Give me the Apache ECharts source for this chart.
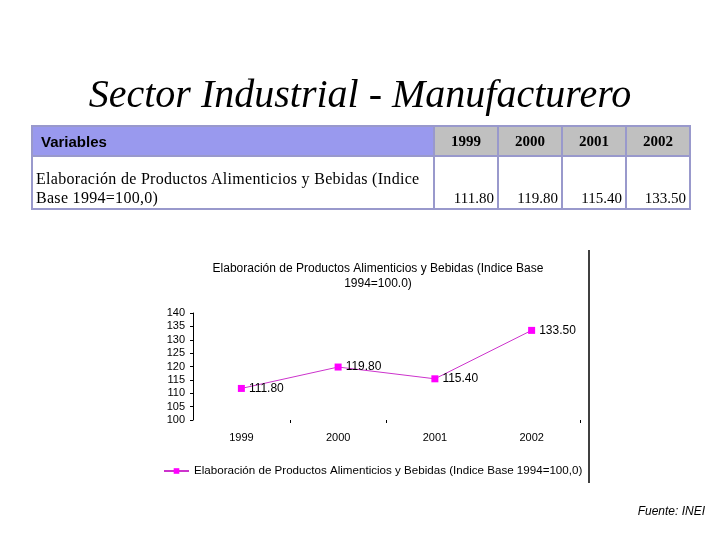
<!DOCTYPE html>
<html>
<head>
<meta charset="utf-8">
<script src="https://cdn.jsdelivr.net/npm/echarts@6/dist/echarts.min.js"></script>
<style>
    body { margin: 0; background: #fff; }
    #page { position: relative; width: 720px; height: 540px; overflow: hidden; }
    #chart { position: absolute; left: 0; top: 0; width: 720px; height: 540px; }
    #title {
        position: absolute; left: 0; top: 70px; width: 720px; text-align: center;
        font-family: "Liberation Serif", "DejaVu Serif", serif; font-style: italic;
        font-size: 40px; color: #000;
    }
    #tabla {
        position: absolute; left: 31px; top: 125px; width: 660px; height: 85px;
        border-collapse: collapse; border: 2px solid #9999cc;
    }
    #tabla td { border: 2px solid #9999cc; padding: 0 3px; }
    #tabla .hvar {
        background: #9999ee; font-family: "Liberation Sans", Arial, sans-serif;
        font-weight: bold; font-size: 15px; height: 28px; padding-left: 8px;
    }
    #tabla .hyear {
        background: #c0c0c0; font-family: "Liberation Serif", serif; font-weight: bold;
        font-size: 15px; text-align: center; width: 56px;
    }
    #tabla .name {
        font-family: "Liberation Serif", serif; font-size: 16px; line-height: 19px;
        vertical-align: bottom; padding-bottom: 1px; letter-spacing: 0.3px;
    }
    #tabla .val {
        font-family: "Liberation Serif", serif; font-size: 15px; text-align: right;
        vertical-align: bottom; padding-bottom: 1px;
    }
    #fuente {
        position: absolute; right: 15px; top: 504px;
        font-family: "Liberation Sans", Arial, sans-serif; font-style: italic; font-size: 12px;
    }
</style>
</head>
<body>
<div id="page">
    <div id="chart"></div>
    <div id="title">Sector Industrial - Manufacturero</div>
    <table id="tabla"></table>
    <div id="fuente">Fuente: INEI</div>
</div>
<script>
let years = ['1999', '2000', '2001', '2002'];
let values = [111.80, 119.80, 115.40, 133.50];
let seriesName = 'Elaboración de Productos Alimenticios y Bebidas (Indice Base 1994=100,0)';
let chartTitle = 'Elaboración de Productos Alimenticios y Bebidas (Indice Base\n1994=100.0)';
let rowLabel = ' Elaboración de Productos Alimenticios y Bebidas (Indice<br>Base 1994=100,0)';

// table
let head = '<tr><td class="hvar">Variables</td>';
years.forEach(function (y) { head += '<td class="hyear">' + y + '</td>'; });
head += '</tr>';
let row = '<tr><td class="name">' + rowLabel + '</td>';
values.forEach(function (v) { row += '<td class="val">' + v.toFixed(2) + '</td>'; });
row += '</tr>';
document.getElementById('tabla').innerHTML = head + row;

let font = '"Liberation Sans", Arial, sans-serif';
let chart = echarts.init(document.getElementById('chart'));
let option = {
    animation: false,
    title: {
        text: chartTitle,
        left: 373,
        textAlign: 'center',
        top: 256,
        textStyle: { fontFamily: font, fontWeight: 'normal', fontSize: 12, lineHeight: 15, color: '#000' }
    },
    legend: {
        left: 158,
        top: 460,
        itemWidth: 25,
        itemHeight: 7,
        itemGap: 5,
        textStyle: { fontFamily: font, fontSize: 11.6, color: '#000' },
        data: [seriesName]
    },
    grid: { left: 193, right: 140, top: 313, bottom: 120 },
    xAxis: {
        type: 'category',
        data: years,
        boundaryGap: true,
        axisLine: { show: false },
        axisTick: {
            show: true,
            length: 3,
            lineStyle: { color: '#000' },
            interval: function (i) { return i === 1 || i === 2; }
        },
        axisLabel: { fontFamily: font, fontSize: 11, color: '#000', margin: 12 }
    },
    yAxis: {
        type: 'value',
        min: 100,
        max: 140,
        interval: 5,
        splitLine: { show: false },
        axisLine: { show: true, lineStyle: { color: '#000', width: 1 } },
        axisTick: { show: true, length: 3, lineStyle: { color: '#000' } },
        axisLabel: { fontFamily: font, fontSize: 11, color: '#000', margin: 8 }
    },
    series: [{
        name: seriesName,
        type: 'line',
        data: values,
        symbol: 'rect',
        symbolSize: 7,
        itemStyle: { color: '#ff00ff' },
        lineStyle: { color: '#cc33cc', width: 1 },
        label: {
            show: true,
            position: 'right',
            distance: 4,
            fontFamily: font,
            fontSize: 12,
            color: '#000',
            formatter: function (p) { return p.value.toFixed(2); }
        }
    }],
    graphic: [{
        type: 'line',
        shape: { x1: 589, y1: 250, x2: 589, y2: 483 },
        style: { stroke: '#000', lineWidth: 1.5 }
    }]
};
chart.setOption(option);
</script>
</body>
</html>
